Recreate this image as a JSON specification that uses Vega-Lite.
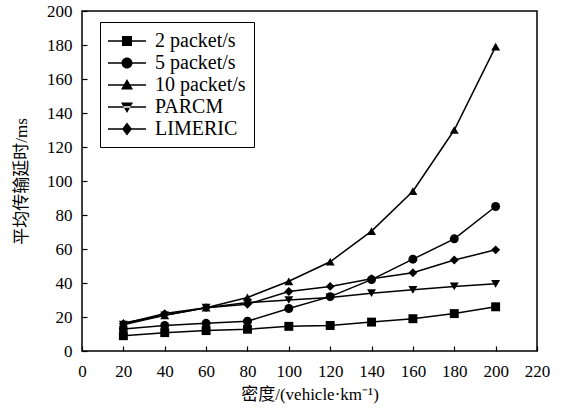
{
  "$schema": "https://vega.github.io/schema/vega-lite/v6.json",
  "width": 455,
  "height": 340,
  "autosize": "none",
  "padding": {"left": 82, "top": 11, "right": 24, "bottom": 60},
  "background": "white",
  "config": {
    "view": {"stroke": "black", "strokeWidth": 1.5},
    "font": "Liberation Serif, Noto Sans CJK SC",
    "axis": {
      "grid": false,
      "domain": false,
      "tickSize": -5,
      "tickColor": "black",
      "tickWidth": 1.2,
      "labelFont": "Liberation Serif",
      "labelFontSize": 17,
      "labelColor": "black",
      "titleFont": "Liberation Serif, Noto Sans CJK SC",
      "titleFontSize": 17,
      "titleFontWeight": "normal",
      "titleColor": "black"
    }
  },
  "data": {
    "values": [
      {"x": 20, "s": "2 packet/s", "y": 9},
      {"x": 40, "s": "2 packet/s", "y": 10.8},
      {"x": 60, "s": "2 packet/s", "y": 12},
      {"x": 80, "s": "2 packet/s", "y": 12.8},
      {"x": 100, "s": "2 packet/s", "y": 14.5},
      {"x": 120, "s": "2 packet/s", "y": 15},
      {"x": 140, "s": "2 packet/s", "y": 17},
      {"x": 160, "s": "2 packet/s", "y": 19},
      {"x": 180, "s": "2 packet/s", "y": 22},
      {"x": 200, "s": "2 packet/s", "y": 26},
      {"x": 20, "s": "5 packet/s", "y": 13},
      {"x": 40, "s": "5 packet/s", "y": 15},
      {"x": 60, "s": "5 packet/s", "y": 16.3},
      {"x": 80, "s": "5 packet/s", "y": 17.5},
      {"x": 100, "s": "5 packet/s", "y": 25},
      {"x": 120, "s": "5 packet/s", "y": 32},
      {"x": 140, "s": "5 packet/s", "y": 42},
      {"x": 160, "s": "5 packet/s", "y": 54},
      {"x": 180, "s": "5 packet/s", "y": 66},
      {"x": 200, "s": "5 packet/s", "y": 85},
      {"x": 20, "s": "10 packet/s", "y": 16.5},
      {"x": 40, "s": "10 packet/s", "y": 21},
      {"x": 60, "s": "10 packet/s", "y": 25.5},
      {"x": 80, "s": "10 packet/s", "y": 31.5},
      {"x": 100, "s": "10 packet/s", "y": 41},
      {"x": 120, "s": "10 packet/s", "y": 52.5},
      {"x": 140, "s": "10 packet/s", "y": 70.5},
      {"x": 160, "s": "10 packet/s", "y": 94},
      {"x": 180, "s": "10 packet/s", "y": 130},
      {"x": 200, "s": "10 packet/s", "y": 179},
      {"x": 20, "s": "PARCM", "y": 15.5},
      {"x": 40, "s": "PARCM", "y": 21},
      {"x": 60, "s": "PARCM", "y": 25.5},
      {"x": 80, "s": "PARCM", "y": 28.5},
      {"x": 100, "s": "PARCM", "y": 30},
      {"x": 120, "s": "PARCM", "y": 31.5},
      {"x": 140, "s": "PARCM", "y": 34},
      {"x": 160, "s": "PARCM", "y": 36},
      {"x": 180, "s": "PARCM", "y": 38},
      {"x": 200, "s": "PARCM", "y": 39.5},
      {"x": 20, "s": "LIMERIC", "y": 16},
      {"x": 40, "s": "LIMERIC", "y": 22},
      {"x": 60, "s": "LIMERIC", "y": 25.5},
      {"x": 80, "s": "LIMERIC", "y": 27.5},
      {"x": 100, "s": "LIMERIC", "y": 35},
      {"x": 120, "s": "LIMERIC", "y": 38},
      {"x": 140, "s": "LIMERIC", "y": 42.5},
      {"x": 160, "s": "LIMERIC", "y": 46},
      {"x": 180, "s": "LIMERIC", "y": 53.5},
      {"x": 200, "s": "LIMERIC", "y": 59.5}
    ]
  },
  "encoding": {
    "x": {
      "field": "x",
      "type": "quantitative",
      "scale": {"domain": [0, 220], "nice": false, "zero": false},
      "axis": {"values": [0, 20, 40, 60, 80, 100, 120, 140, 160, 180, 200, 220], "title": "密度/(vehicle·km⁻¹)", "labelPadding": 17, "titlePadding": 7, "labelFlush": false}
    },
    "y": {
      "field": "y",
      "type": "quantitative",
      "scale": {"domain": [0, 200], "nice": false},
      "axis": {"values": [0, 20, 40, 60, 80, 100, 120, 140, 160, 180, 200], "title": "平均传输延时/ms", "labelPadding": 15, "titlePadding": 16, "labelFlush": false}
    }
  },
  "resolve": {"scale": {"shape": "independent"}, "legend": {"shape": "independent"}},
  "layer": [
    {
      "mark": {"type": "line", "color": "black", "strokeWidth": 1.5},
      "encoding": {"detail": {"field": "s"}}
    },
    {
      "mark": {"type": "point", "filled": true, "color": "black", "opacity": 1, "size": 80},
      "encoding": {
        "shape": {
          "field": "s",
          "type": "nominal",
          "scale": {
            "domain": ["2 packet/s", "5 packet/s", "10 packet/s", "PARCM", "LIMERIC"],
            "range": ["square", "circle", "triangle-up", "triangle-down", "diamond"]
          },
          "legend": null
        }
      }
    },
    {
      "transform": [{"filter": "datum.x < 0"}],
      "mark": {"type": "point", "filled": true, "color": "black", "opacity": 1, "size": 400},
      "encoding": {
        "shape": {
          "field": "s",
          "type": "nominal",
          "scale": {
            "domain": ["2 packet/s", "5 packet/s", "10 packet/s", "PARCM", "LIMERIC"],
            "range": [
              "M-1.9,-0.075H1.9V0.075H-1.9ZM-0.5,-0.5H0.5V0.5H-0.5Z",
              "M-1.9,-0.075H1.9V0.075H-1.9ZM0.55,0A0.55,0.55,0,1,1,-0.55,0A0.55,0.55,0,1,1,0.55,0Z",
              "M-1.9,-0.075H1.9V0.075H-1.9ZM0,-0.6L0.6,0.45H-0.6Z",
              "M-1.9,-0.075H1.9V0.075H-1.9ZM0,0.6L0.6,-0.45H-0.6Z",
              "M-1.9,-0.075H1.9V0.075H-1.9ZM0,-0.65L0.5,0L0,0.65L-0.5,0Z"
            ]
          },
          "legend": {
            "title": null,
            "orient": "none",
            "legendX": 18,
            "legendY": 11,
            "strokeColor": "black",
            "fillColor": "white",
            "padding": 8,
            "labelFont": "Liberation Serif",
            "labelFontSize": 20,
            "labelColor": "black",
            "labelOffset": 17,
            "symbolOffset": 8,
            "symbolSize": 400,
            "symbolFillColor": "black",
            "rowPadding": 1
          }
        }
      }
    }
  ]
}
